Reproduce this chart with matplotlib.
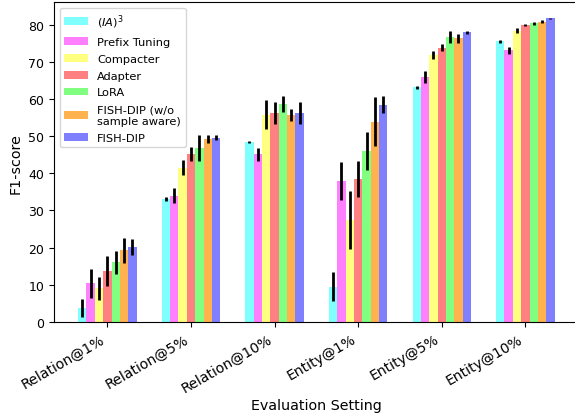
import numpy as np
from matplotlib import pyplot as plt

# Datos
settings = ["Relation@1%", "Relation@5%", "Relation@10%",
            "Entity@1%", "Entity@5%", "Entity@10%"]
methods = ["$(IA)^3$", "Prefix Tuning", "Compacter", "Adapter", "LoRA",
           "FISH-DIP (w/o\nsample aware)", "FISH-DIP"]

ia3 = [3.7, 33.0, 48.5, 9.5, 63.1, 75.5]
ia3_err = [2.5, 0.5, 0.3, 4.0, 0.4, 0.4]
prefix = [10.4, 34.0, 45.1, 37.9, 65.9, 73.1]
prefix_err = [3.9, 2.1, 1.8, 5.2, 1.7, 1.0]
compacter = [9.0, 41.5, 55.8, 27.4, 71.9, 78.4]
compacter_err = [3.2, 2.0, 4.0, 7.9, 1.1, 0.7]
adapter = [13.7, 45.1, 56.3, 38.4, 73.8, 79.8]
adapter_err = [4.0, 1.9, 3.0, 4.8, 1.0, 0.3]
lora = [16.0, 46.7, 58.6, 46.0, 76.7, 80.4]
lora_err = [3.0, 3.5, 2.2, 5.0, 1.7, 0.4]
fish_wo = [19.3, 49.2, 55.7, 53.9, 76.3, 80.8]
fish_wo_err = [3.4, 1.1, 1.6, 6.6, 1.2, 0.4]
fish = [20.2, 49.6, 56.3, 58.5, 78.0, 81.7]
fish_err = [2.2, 0.7, 3.0, 2.2, 0.4, 0.2]

values = [ia3, prefix, compacter, adapter, lora, fish_wo, fish]
errors = [ia3_err, prefix_err, compacter_err, adapter_err, lora_err, fish_wo_err, fish_err]
colors = ["#80ffff", "#ff80ff", "#ffff80", "#ff8080", "#80ff80", "#ffb24d", "#8080ff"]

width = 0.1
x = np.arange(len(settings))

fig = plt.figure(figsize=(5.75, 4.14), dpi=100)
ax = fig.add_axes([0.094, 0.22, 0.912, 0.772])

for i in range(len(methods)):
    ax.bar(x + (i - 3) * width, values[i], width, yerr=errors[i],
           color=colors[i], label=methods[i],
           error_kw=dict(ecolor="black", elinewidth=2, capsize=0))

ax.set_xticks(x)
ax.set_xticklabels(settings, rotation=30, ha="right", fontsize=10.1)
ax.tick_params(axis="y", labelsize=9)
ax.set_ylim(0, 86)
ax.set_xlim(-0.638, 5.635)
ax.set_xlabel("Evaluation Setting", fontsize=10.3)
ax.xaxis.set_label_coords(0.5, -0.238)
ax.set_ylabel("F1-score", fontsize=10.3)
ax.legend(loc="upper left", fontsize=8.2, handlelength=2.1, labelspacing=0.6)

fig.savefig("out.png", dpi=100)
